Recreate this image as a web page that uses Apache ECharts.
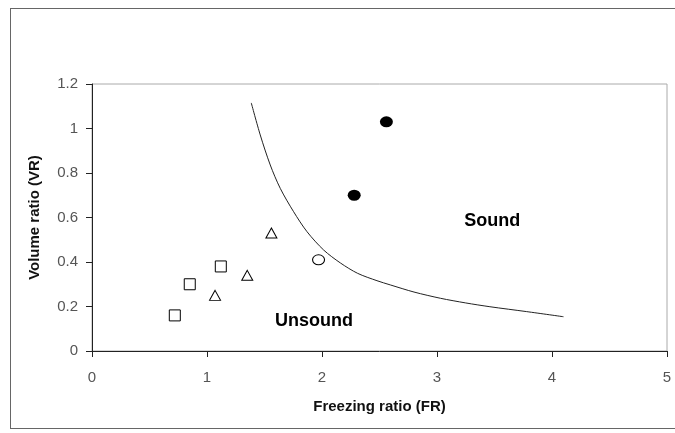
<!DOCTYPE html>
<html><head><meta charset="utf-8">
<script src="https://cdn.jsdelivr.net/npm/echarts@6/dist/echarts.min.js"></script>
<style>html,body{margin:0;padding:0;background:#fff}#c{width:675px;height:433px}
#frame{position:absolute;left:10px;top:8px;width:680px;height:421px;border:1.5px solid #666;box-sizing:border-box;pointer-events:none}</style>
</head><body><div id="c"></div><div id="frame"></div>
<script>
const squares = [[0.72,0.16],[0.85,0.30],[1.12,0.38]];
const triangles = [[1.07,0.25],[1.35,0.34],[1.56,0.53]];
const openCircles = [[1.97,0.41]];
const filledCircles = [[2.28,0.70],[2.56,1.03]];
const boundary = [[1.385,1.115],[1.463,0.971],[1.55,0.836],[1.637,0.731],[1.753,0.626],[1.87,0.536],[2.014,0.454],[2.159,0.396],[2.31,0.349],[2.478,0.316],[2.594,0.297],[2.80,0.265],[3.03,0.237],[3.25,0.216],[3.46,0.199],[3.78,0.177],[4.10,0.154]];
const regionLabels = [{name:'Sound',value:[3.48,0.585]},{name:'Unsound',value:[1.93,0.136]}];
const xTicks = [0,1,2,3,4,5];
const yTicks = [0,0.2,0.4,0.6,0.8,1,1.2];

const chart = echarts.init(document.getElementById('c'));
const ms = {color:'#fff',borderColor:'#000',borderWidth:1,opacity:1};
const FF = 'Liberation Sans, Arial';
chart.setOption({
  animation:false,
  grid:{left:92,right:8,top:84,bottom:82,show:true,borderColor:'#aaa',borderWidth:1},
  xAxis:{type:'value',min:0,max:5,interval:1,
    name:'Freezing ratio (FR)',nameLocation:'middle',nameGap:48,
    nameTextStyle:{fontFamily:FF,fontWeight:'bold',fontSize:15,color:'#111'},
    axisLine:{lineStyle:{color:'#222',width:1}},
    axisTick:{show:true,inside:false,length:6,lineStyle:{color:'#222'}},
    axisLabel:{margin:19,fontFamily:FF,fontSize:15,color:'#555',
      formatter:v=>xTicks.includes(v)?String(v):''},
    splitLine:{show:false}},
  yAxis:{type:'value',min:0,max:1.2,interval:0.2,
    name:'Volume ratio (VR)',nameLocation:'middle',nameGap:50,nameRotate:90,
    nameTextStyle:{fontFamily:FF,fontWeight:'bold',fontSize:15,color:'#111'},
    axisLine:{show:true,lineStyle:{color:'#222',width:1}},
    axisTick:{show:true,inside:false,length:6,lineStyle:{color:'#222'}},
    axisLabel:{margin:14,fontFamily:FF,fontSize:15,color:'#555',
      formatter:v=>{const t=yTicks.find(u=>Math.abs(u-v)<1e-9);return t===undefined?'':String(t);}},
    splitLine:{show:false}},
  series:[
    {type:'line',data:boundary,smooth:0.3,showSymbol:false,symbol:'none',lineStyle:{color:'#222',width:1}},
    {type:'scatter',data:squares,symbol:'rect',symbolSize:11,itemStyle:ms},
    {type:'scatter',data:triangles,symbol:'triangle',symbolSize:[11,10],itemStyle:ms},
    {type:'scatter',data:openCircles,symbol:'circle',symbolSize:[12,10],itemStyle:ms},
    {type:'scatter',data:filledCircles,symbol:'circle',symbolSize:[13,11],itemStyle:{color:'#000',opacity:1}},
    {type:'scatter',data:regionLabels,symbolSize:0,itemStyle:{opacity:1},
      label:{show:true,position:'inside',formatter:p=>p.name,fontFamily:FF,fontWeight:'bold',fontSize:18,color:'#000'}}
  ]
});
</script></body></html>
